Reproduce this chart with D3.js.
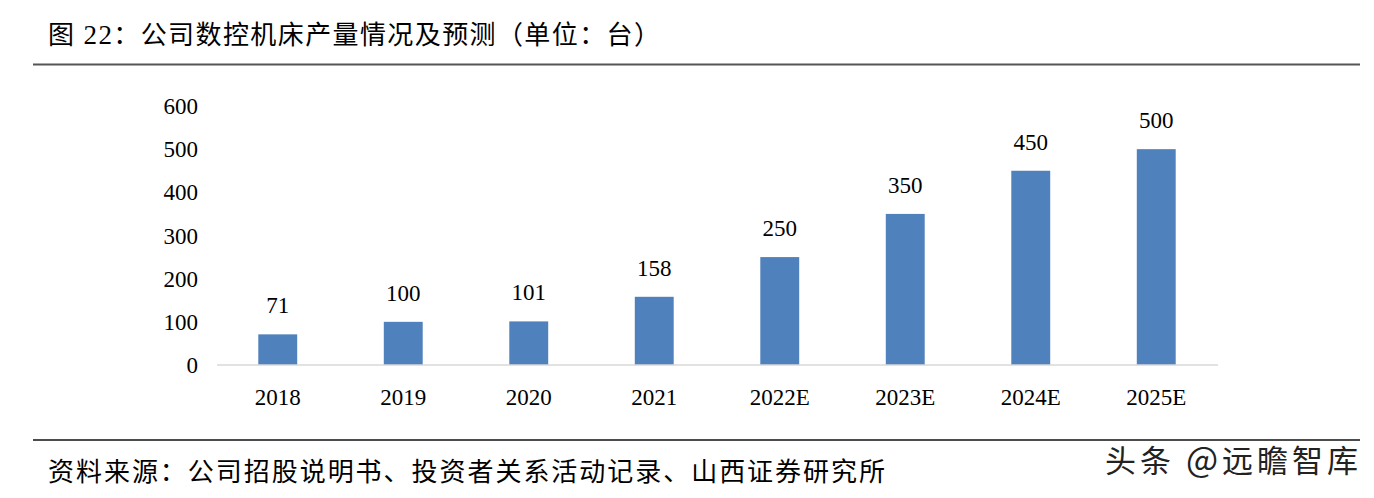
<!DOCTYPE html>
<html><head><meta charset="utf-8">
<script src="https://cdn.jsdelivr.net/npm/d3@7/dist/d3.min.js"></script>
<style>html,body{margin:0;padding:0;background:#fff;overflow:hidden}</style>
</head><body>
<svg id="chart" width="1374" height="498"></svg>
<script>
const categories = ["2018","2019","2020","2021","2022E","2023E","2024E","2025E"];
const values = [71,100,101,158,250,350,450,500];
const yTicks = [0,100,200,300,400,500,600];
const titleParts = ["图", " 22", "：公司数控机床产量情况及预测（单位：台）"];
const sourceText = "资料来源：公司招股说明书、投资者关系活动记录、山西证券研究所";
const watermarkParts = ["头条 ", "@", "远瞻智库"];

const svg = d3.select("#chart");
const cjk = "'Noto Sans CJK SC','Noto Sans',sans-serif";
const serif = "'Liberation Serif','Times New Roman',serif";

// Title
const title = svg.append("text").attr("x",48).attr("y",44)
  .attr("font-family",cjk).attr("font-size",26).attr("fill","#000");
title.append("tspan").text(titleParts[0]);
title.append("tspan").attr("font-family",serif).attr("font-size",27).text(titleParts[1]);
title.append("tspan").text(titleParts[2]);
title.attr("textLength",612).attr("lengthAdjust","spacing");

svg.append("line").attr("x1",33).attr("x2",1360).attr("y1",64.5).attr("y2",64.5)
  .attr("stroke","#555").attr("stroke-width",2);
svg.append("line").attr("x1",33).attr("x2",1360).attr("y1",440).attr("y2",440)
  .attr("stroke","#111").attr("stroke-width",1.5);

// Scales
const x = d3.scaleBand().domain(categories).range([215,1219]).paddingInner(0.69).paddingOuter(0.345);
const y = d3.scaleLinear().domain([0,600]).range([365,106]);

// y axis labels
const yAxis = d3.axisLeft(y).tickValues(yTicks).tickSize(0).tickPadding(0);
const gy = svg.append("g").attr("transform","translate(198,0)").call(yAxis);
gy.select(".domain").remove();
gy.selectAll("text").attr("font-family",serif).attr("font-size",23).attr("fill","#000").attr("dy","0.33em");

// bars
svg.append("g").selectAll("rect").data(values).join("rect")
  .attr("x",(d,i)=>x(categories[i])).attr("width",x.bandwidth())
  .attr("y",d=>y(d)).attr("height",d=>y(0)-y(d)).attr("fill","#4f81bd");

// x axis
const xAxis = d3.axisBottom(x).tickSize(0).tickPadding(0);
const gx = svg.append("g").attr("transform","translate(0,365)").call(xAxis);
gx.select(".domain").attr("stroke","#d9d9d9").attr("stroke-width",1.5).attr("d","M217,0H1218");
gx.selectAll("text").attr("font-family",serif).attr("font-size",23).attr("fill","#000")
  .attr("dy",null).attr("y",40);

// value labels
svg.append("g").selectAll("text").data(values).join("text")
  .attr("x",(d,i)=>x(categories[i])+x.bandwidth()/2).attr("y",d=>y(d)-21)
  .attr("text-anchor","middle").attr("font-family",serif).attr("font-size",23).attr("fill","#000")
  .text(d=>d);

// source
svg.append("text").attr("x",48).attr("y",481).attr("font-family",cjk).attr("font-size",26)
  .attr("fill","#000").attr("textLength",837).attr("lengthAdjust","spacing").text(sourceText);

// watermark
function wm(fill, stroke){
  const t = svg.append("text").attr("x",1105).attr("y",472).attr("font-family",cjk)
    .attr("font-size",31).attr("fill",fill);
  if (stroke) t.attr("stroke",stroke).attr("stroke-width",3);
  t.append("tspan").text(watermarkParts[0]);
  t.append("tspan").attr("font-size",34).text(watermarkParts[1]);
  t.append("tspan").text(watermarkParts[2]);
  t.attr("textLength",253).attr("lengthAdjust","spacing");
}
wm("#fff","#fff");
wm("#222",null);
</script>
</body></html>
